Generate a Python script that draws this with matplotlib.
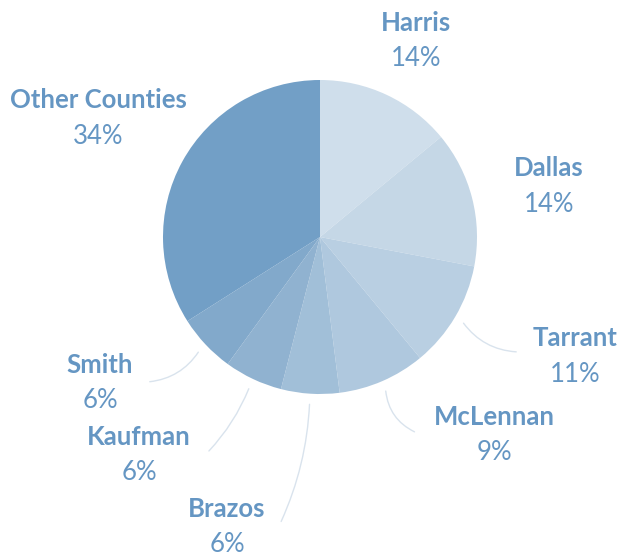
import numpy as np
import matplotlib.pyplot as plt

counties = ['Harris', 'Dallas', 'Tarrant', 'McLennan', 'Brazos', 'Kaufman', 'Smith', 'Other Counties']
shares = [14, 14, 11, 9, 6, 6, 6, 34]
colors = ['#cfdeeb', '#c5d7e6', '#b9cfe2', '#afc8de', '#a1bfd8', '#90b2d0', '#82a9cb', '#729fc6']

# label centres (pixels from top-left) and leader line ends (None = no line)
label_pos = [(416, 23), (549, 168), (575, 338), (494, 417), (227, 509), (139, 437), (100, 365), (98, 100)]
line_end = [None, None, (519, 352), (417, 433), (280, 524), (207, 453), (147, 382), None]
line_rad = [0, 0, 0.25, 0.3, -0.1, -0.1, -0.25, 0]

W, H = 621, 554
cx, cy, R = 320, 237, 157
text_color = '#6596c3'

plt.rcParams['font.family'] = ['Lato', 'DejaVu Sans']
fig = plt.figure(figsize=(W / 100, H / 100), dpi=100)
ax = fig.add_axes([0, 0, 1, 1])
ax.axis('off')

ax.pie(shares, colors=colors, startangle=90, counterclock=False,
       center=(cx, H - cy), radius=R, wedgeprops={'linewidth': 0})
ax.set_xlim(0, W)
ax.set_ylim(0, H)
ax.set_aspect('equal')

cum = np.cumsum([0] + shares)
for i, name in enumerate(counties):
    x, y = label_pos[i]
    ax.text(x, H - y, name, ha='center', va='center', fontsize=18.5,
            fontweight='bold', color=text_color)
    ax.text(x, H - y - 36, f'{shares[i]}%', ha='center', va='center',
            fontsize=18.5, color=text_color)
    if line_end[i] is not None:
        mid = (cum[i] + cum[i + 1]) / 2 / 100 * 2 * np.pi
        sx = cx + 1.05 * R * np.sin(mid)
        sy = H - (cy - 1.05 * R * np.cos(mid))
        ex, ey = line_end[i]
        ax.annotate('', xy=(ex, H - ey), xytext=(sx, sy),
                    arrowprops=dict(arrowstyle='-', color='#d9e3ed', lw=1,
                                    connectionstyle=f'arc3,rad={line_rad[i]}'))

fig.savefig('out.png', dpi=100)
